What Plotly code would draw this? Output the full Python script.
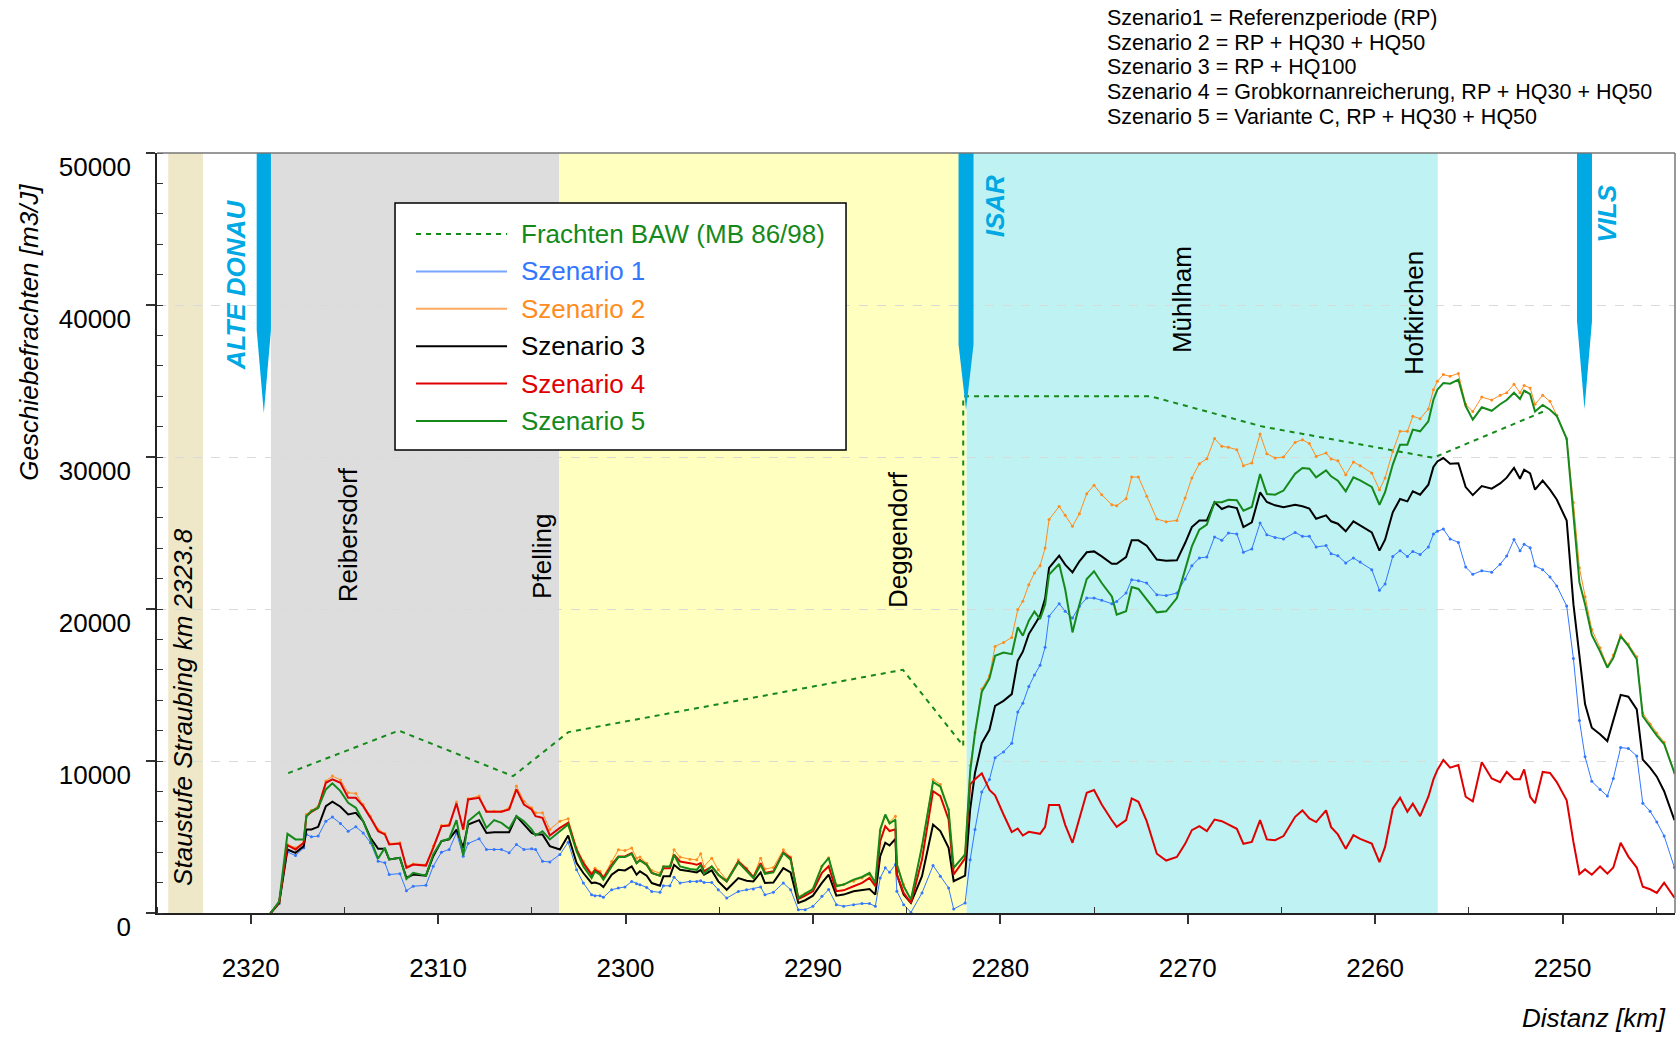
import plotly.graph_objects as go

# ---------------- data ----------------
km = [
    2318.93, 2318.48, 2318.04, 2317.61, 2317.17, 2317.03, 2316.76, 2316.40, 2315.99, 2315.64,
    2315.21, 2314.80, 2314.39, 2314.00, 2313.61, 2313.20, 2312.84, 2312.61, 2312.04, 2311.69,
    2311.33, 2310.65, 2310.26, 2309.82, 2309.41, 2309.02, 2308.66, 2308.40, 2307.81, 2307.42,
    2307.01, 2306.62, 2306.21, 2305.82, 2305.42, 2305.01, 2304.80, 2304.43, 2304.04, 2303.50,
    2303.06,
    2302.61, 2302.25, 2301.81, 2301.63, 2301.36, 2301.18, 2300.74, 2300.38, 2300.03, 2299.67,
    2299.41, 2299.23, 2298.87, 2298.60, 2298.16, 2297.98, 2297.63, 2297.41, 2297.09, 2296.56,
    2296.20, 2295.99, 2295.81, 2295.40, 2295.05, 2294.60, 2293.98, 2293.54, 2293.18, 2292.79,
    2292.56, 2292.11, 2291.58, 2291.19, 2290.78,
    2290.41, 2290.00, 2289.52, 2289.16, 2288.75, 2288.36, 2287.83, 2287.38, 2286.98, 2286.67,
    2286.41, 2286.14, 2285.91, 2285.60, 2285.52, 2285.16, 2284.77, 2284.18, 2283.59, 2283.20,
    2282.76, 2282.49,
    2281.88, 2281.61, 2281.35, 2280.99, 2280.58, 2280.28, 2279.83, 2279.39, 2279.07, 2278.80,
    2278.48, 2278.18, 2277.88, 2277.61, 2277.40, 2276.86, 2276.54, 2276.15, 2275.78, 2275.39,
    2275.00, 2274.59, 2274.05, 2273.79, 2273.29, 2272.99, 2272.63, 2272.19, 2271.65, 2271.15,
    2270.58, 2270.14, 2269.78, 2269.38, 2268.98, 2268.57, 2268.18, 2267.83, 2267.38, 2267.03,
    2266.58, 2266.14, 2265.78, 2265.34, 2264.89, 2264.27, 2263.88, 2263.51, 2263.15, 2262.62,
    2262.35, 2261.99, 2261.57, 2261.16, 2260.80, 2260.18, 2259.77, 2259.47, 2259.06, 2258.67,
    2258.28, 2257.99, 2257.60, 2257.16, 2256.89, 2256.68, 2256.36, 2256.00,
    2255.56, 2255.17, 2254.79, 2254.31, 2253.78, 2253.33, 2252.98, 2252.59, 2252.27, 2252.05,
    2251.73, 2251.47, 2251.06, 2250.67, 2250.31, 2249.78, 2249.42, 2249.10, 2248.80, 2248.44,
    2248.00, 2247.61, 2247.29, 2246.90, 2246.49, 2246.04, 2245.72, 2245.33, 2244.97, 2244.58,
    2244.03,
]

szenario1 = [
    0, 620, 4020, 3780, 4290, 5170, 5010, 5060, 6040, 6310,
    5890, 5380, 5670, 5270, 4620, 3410, 3300, 2530, 2590, 1470,
    1760, 1820, 3080, 4000, 4180, 5270, 3740, 4570, 4880, 4180,
    4180, 4180, 3960, 4510, 4180, 4220, 4180, 3400, 3360, 3850,
    4660,
    2840, 1970, 1200, 1140, 1140, 1030, 1530, 1640, 1710, 2080,
    1930, 1860, 1680, 1420, 1360, 1790, 1790, 2360, 1970, 2080,
    2080, 2120, 2010, 2010, 1530, 980, 1420, 1530, 1580, 1710,
    1200, 1360, 1970, 1530, 220,
    220, 440, 1100, 1540, 550, 440, 550, 620, 620, 440,
    2310, 2970, 2680, 3190, 1430, 550, 40, 1320, 3120, 2420,
    1650, 260,
    660, 3500, 5500, 7960, 8790, 10220, 10600, 11170, 13230, 13800,
    14900, 15650, 16300, 17480, 19520, 20350, 19850, 19410, 20180, 20720,
    20720, 20570, 20350, 20500, 21050, 21930, 21860, 21710, 20940, 20880,
    21050, 21970, 22850, 23360, 23420, 24740, 24520, 25000, 24930, 23730,
    23950, 25660, 24890, 24710, 24610, 25040, 24780, 24780, 24080, 24170,
    23640, 23510, 23030, 23360, 23090, 22590, 21230, 21650, 23460, 23840,
    23460, 23790, 23580, 24080, 24930, 25110, 25260, 24610,
    24380, 22760, 22280, 22520, 22420, 22950, 23480, 24570, 23830, 24260,
    24030, 22830, 22590, 22110, 21520, 20200, 16740, 12670, 10280, 8660,
    8130, 7700, 8850, 10880, 10830, 10330, 7220, 6700, 5980, 5070,
    2990,
]

szenario2 = [
    0, 700, 4510, 4290, 4660, 6480, 6750, 7030, 8680, 9010,
    8750, 7910, 7870, 7140, 6370, 5500, 5230, 4570, 4620, 3080,
    3230, 3190, 4400, 5760, 5820, 7300, 5540, 7520, 7690, 6700,
    6700, 6700, 6920, 8350, 7360, 6920, 6590, 6590, 5500, 6040,
    6200,
    4270, 3390, 2630, 2950, 2740, 2410, 3390, 4160, 4110, 4270,
    3610, 3680, 3280, 2800, 2630, 3060, 3060, 4160, 3680, 3540,
    3500, 3890, 3060, 3610, 2840, 2190, 3500, 2950, 2410, 3610,
    2890, 3000, 4160, 3680, 1090,
    1270, 1580, 3080, 3630, 1870, 1870, 2090, 2310, 2530, 1870,
    5390, 6370, 5980, 6370, 3300, 1870, 880, 4400, 8790, 8460,
    6810, 2970,
    3850, 9700, 11870, 14730, 15610, 17540, 17800, 18130, 19960, 20510,
    21600, 22370, 22850, 24010, 25880, 26750, 26160, 25440, 26270, 27590,
    28140, 27520, 26860, 26800, 27260, 28680, 28680, 27410, 25920, 25740,
    25830, 27300, 28620, 29560, 29890, 31210, 30700, 30640, 30480, 29430,
    29610, 31510, 30220, 29930, 30000, 30960, 31140, 30880, 30040, 30260,
    29870, 29760, 28840, 29670, 29430, 28950, 27850, 28620, 30370, 31690,
    31690, 32680, 32520, 33160, 34430, 34980, 35420, 35310,
    35500, 33470, 32990, 33940, 33750, 34060, 34230, 34780, 34230, 34710,
    34540, 33470, 34060, 33660, 32750, 31200, 27010, 22710, 20800, 18650,
    17450, 16260, 16970, 18290, 17690, 16860, 13150, 12430, 11840, 11240,
    9210,
]

szenario3 = [
    0, 660, 4180, 3960, 4400, 5490, 5490, 5670, 7030, 7320,
    6990, 6480, 6590, 6040, 4950, 4220, 4220, 3520, 3630, 2310,
    2530, 2460, 3740, 4730, 4840, 5490, 4290, 5820, 6110, 5270,
    5320, 5320, 5320, 6370, 5820, 5270, 5170, 5170, 4400, 4180,
    5100,
    3280, 2630, 1970, 2010, 1900, 1710, 2520, 2840, 2800, 3060,
    2520, 2740, 2450, 1970, 1790, 2410, 2410, 3170, 2840, 2740,
    2670, 2840, 2520, 2800, 2080, 1530, 2300, 2120, 2080, 2670,
    1970, 2010, 2950, 2670, 660,
    840, 1140, 1980, 2530, 1140, 1210, 1430, 1490, 1580, 1210,
    3740, 4620, 4440, 4880, 2530, 1210, 660, 2420, 5820, 5390,
    4290, 2090,
    2460, 6810, 9230, 11170, 12050, 13630, 13960, 14400, 16600, 17190,
    18350, 18950, 19560, 20690, 22700, 23510, 22920, 22410, 23140, 23730,
    23790, 23460, 22980, 22980, 23420, 24520, 24520, 24170, 23250, 23180,
    23200, 24340, 25390, 25830, 25830, 27020, 26580, 26760, 26640, 25390,
    25700, 27670, 27040, 26820, 26690, 26860, 26760, 26600, 25940, 26160,
    25770, 25610, 25110, 25770, 25500, 25040, 23840, 24560, 26360, 27240,
    27080, 27740, 27520, 28180, 29340, 29710, 29930, 29560,
    29590, 28020, 27490, 28090, 27920, 28260, 28640, 29280, 28570, 29160,
    28920, 27850, 28450, 27850, 27200, 25820, 20320, 16740, 13750, 12190,
    11760, 11310, 12670, 14350, 14230, 13390, 10090, 9570, 8970, 8010,
    6100,
]

szenario4 = [
    0, 700, 4460, 4180, 4620, 6370, 6660, 6920, 8570, 8790,
    8570, 7580, 7580, 7030, 6260, 5380, 5170, 4510, 4570, 2970,
    3190, 3120, 4290, 5710, 5760, 7210, 5500, 7470, 7580, 6660,
    6660, 6660, 6810, 8130, 7140, 6810, 6370, 6260, 5100, 5600,
    5930,
    4160, 3280, 2520, 2840, 2630, 2300, 3170, 3720, 3720, 3940,
    3280, 3500, 3170, 2630, 2450, 2950, 2950, 3830, 3390, 3280,
    3170, 3280, 2740, 3060, 2520, 2080, 3390, 2890, 2360, 3280,
    2630, 2740, 3980, 3610, 920,
    1140, 1430, 2640, 3080, 1430, 1490, 1760, 1980, 2310, 1760,
    4730, 5710, 5390, 5500, 2530, 1320, 660, 3520, 8020, 7690,
    6150, 2530,
    3600, 8460, 8800, 9190, 8090, 7740, 6480, 5320, 5560, 5100,
    5340, 5280, 5210, 5670, 7100, 7100, 5800, 4620, 6270, 7910,
    8090, 7140, 6100, 5670, 6110, 7540, 7320, 6040, 3900, 3450,
    3690, 4550, 5450, 5710, 5390, 6150, 6040, 5820, 5540, 4550,
    4680, 6110, 4840, 4790, 5060, 6330, 6750, 6220, 5980, 6750,
    5650, 5170, 4220, 5120, 4880, 4570, 3340, 4350, 6860, 7580,
    6660, 7190, 6370, 7650, 8790, 9410, 10070, 9560,
    9730, 7650, 7340, 9920, 8850, 8610, 9280, 8800, 8800, 9450,
    7650, 7220, 9280, 9210, 8610, 7410, 4670, 2560, 2870, 2520,
    3060, 2590, 2990, 4620, 3710, 2990, 1730, 1560, 1320, 1990,
    1010,
]

szenario5 = [
    0, 770, 5210, 4840, 4840, 6370, 6700, 6920, 8130, 8530,
    8020, 7250, 6920, 6040, 4840, 3580, 4290, 3520, 3630, 2240,
    2640, 2460, 3850, 4730, 4880, 6110, 3780, 6040, 6640, 5600,
    6110, 5930, 5540, 6370, 6040, 5500, 5100, 5380, 4840, 5380,
    5820,
    4050, 3060, 2300, 2740, 2520, 2190, 3060, 3680, 3680, 3890,
    3280, 3460, 3170, 2630, 2450, 3060, 3060, 3830, 3060, 2890,
    2840, 3170, 2580, 3060, 2520, 2080, 3330, 2800, 2300, 3170,
    2580, 2670, 3940, 3500, 980,
    1270, 1580, 3080, 3630, 1760, 1870, 2200, 2370, 2640, 1980,
    5500, 6480, 5890, 6150, 3190, 1760, 880, 4400, 8620, 8310,
    6770, 2970,
    3850, 9300, 11870, 14550, 15430, 16920, 17140, 17030, 18790, 18240,
    19230, 19830, 19340, 20290, 22260, 22960, 21300, 18460, 20290, 21970,
    22480, 21710, 20830, 19630, 19850, 21450, 21320, 20610, 19780, 19850,
    20720, 22590, 24120, 25220, 25550, 27020, 27020, 27190, 27150, 26470,
    26710, 28880, 27570, 27520, 27790, 28900, 29280, 29230, 28660, 29120,
    28730, 28440, 27740, 28660, 28460, 28030, 26860, 27680, 29500, 30810,
    30810, 31800, 31690, 32350, 33770, 34430, 34870, 34820,
    35090, 33350, 32460, 33270, 33040, 33470, 33750, 34230, 33820, 34370,
    34130, 32990, 33420, 33110, 32700, 31200, 26300, 21750, 20320, 18290,
    17210, 16140, 16780, 18220, 17570, 16690, 12960, 12310, 11670, 11120,
    9210,
]

baw_km = [2318.0, 2312.1, 2306.0, 2303.05, 2285.2, 2282.15, 2281.98, 2281.98, 2272.0, 2266.0, 2256.9, 2251.0]
baw_val = [9200, 12000, 9000, 11900, 16000, 11250, 11000, 34000, 34000, 32000, 29950, 33000]

x_ticks = [2320, 2310, 2300, 2290, 2280, 2270, 2260, 2250]
y_ticks = [0, 10000, 20000, 30000, 40000, 50000]

series_names = ["Frachten BAW (MB 86/98)", "Szenario 1", "Szenario 2", "Szenario 3", "Szenario 4", "Szenario 5"]

info_lines = [
    "Szenario1 = Referenzperiode (RP)",
    "Szenario 2 = RP + HQ30 + HQ50",
    "Szenario 3 = RP + HQ100",
    "Szenario 4 = Grobkornanreicherung, RP + HQ30 + HQ50",
    "Szenario 5 = Variante C, RP + HQ30 + HQ50",
]

# ---------------- styles ----------------
FONT = "Liberation Sans, Arial, Helvetica, sans-serif"
BLUE = "rgb(51,119,255)"
ORANGE = "rgb(255,140,30)"
BLACK = "rgb(0,0,0)"
RED = "rgb(224,0,0)"
GREEN = "rgb(21,137,26)"
RIVER = "rgb(0,168,228)"

fig = go.Figure()

fig.add_trace(go.Scatter(x=baw_km, y=baw_val, mode="lines", name=series_names[0],
                         line=dict(color=GREEN, width=2, dash="5px,5px")))
fig.add_trace(go.Scatter(x=km, y=szenario1, mode="lines+markers", name=series_names[1],
                         line=dict(color=BLUE, width=1), marker=dict(size=3, color=BLUE)))
fig.add_trace(go.Scatter(x=km, y=szenario2, mode="lines+markers", name=series_names[2],
                         line=dict(color=ORANGE, width=1), marker=dict(size=3, color=ORANGE)))
fig.add_trace(go.Scatter(x=km, y=szenario3, mode="lines", name=series_names[3],
                         line=dict(color=BLACK, width=2)))
fig.add_trace(go.Scatter(x=km, y=szenario4, mode="lines", name=series_names[4],
                         line=dict(color=RED, width=2)))
fig.add_trace(go.Scatter(x=km, y=szenario5, mode="lines", name=series_names[5],
                         line=dict(color=GREEN, width=2)))

shapes = []
# background reaches
for x0, x1, col in [
    (2324.4, 2322.55, "rgb(239,232,200)"),
    (2318.92, 2303.55, "rgb(220,221,220)"),
    (2303.55, 2281.8, "rgb(255,255,192)"),
    (2281.8, 2256.66, "rgb(191,242,242)"),
]:
    shapes.append(dict(type="rect", xref="x", yref="paper", x0=x0, x1=x1, y0=0, y1=1,
                       fillcolor=col, line=dict(width=0), layer="below"))

# tributary arrows
for xl, xr, xc, ys, yt in [
    (2319.68, 2318.92, 2319.30, 38350, 32900),
    (2282.23, 2281.43, 2281.83, 37400, 33100),
    (2249.23, 2248.43, 2248.83, 38950, 33160),
]:
    shapes.append(dict(type="path", xref="x", yref="y",
                       path=f"M {xl},50000 L {xr},50000 L {xr},{ys} L {xc},{yt} L {xl},{ys} Z",
                       fillcolor=RIVER, line=dict(width=0), layer="above"))

# frame top/right
shapes.append(dict(type="line", xref="paper", yref="paper", x0=0, x1=1, y0=1, y1=1,
                   line=dict(color="#777777", width=1.5), layer="above"))
shapes.append(dict(type="line", xref="paper", yref="paper", x0=1, x1=1, y0=0, y1=1,
                   line=dict(color="#777777", width=1.5), layer="above"))

# manual legend box
shapes.append(dict(type="rect", xref="paper", yref="paper", x0=0.1568, x1=0.4539, y0=0.6092, y1=0.9342,
                   fillcolor="white", line=dict(color="black", width=1.5), layer="above"))
leg_colors = [GREEN, "rgb(120,165,255)", "rgb(255,170,100)", BLACK, RED, GREEN]
leg_text_colors = [GREEN, BLUE, ORANGE, BLACK, RED, GREEN]
leg_dash = ["5px,5px", "solid", "solid", "solid", "solid", "solid"]
leg_width = [2, 2, 2, 2, 2, 2]
leg_rows = [0.8934, 0.8442, 0.7950, 0.7458, 0.6966, 0.6474]

annotations = []
for name, lc, tc, ds, lw, ry in zip(series_names, leg_colors, leg_text_colors, leg_dash, leg_width, leg_rows):
    shapes.append(dict(type="line", xref="paper", yref="paper", x0=0.1706, x1=0.2306, y0=ry, y1=ry,
                       line=dict(color=lc, width=lw, dash=ds), layer="above"))
    annotations.append(dict(xref="paper", yref="paper", x=0.2385, y=ry, xanchor="left", yanchor="middle",
                            text=name, showarrow=False, font=dict(family=FONT, size=26, color=tc)))

# river labels
for txt, x, y in [("ALTE DONAU", 2320.78, 41300), ("ISAR", 2280.28, 46500), ("VILS", 2247.63, 46000)]:
    annotations.append(dict(xref="x", yref="y", x=x, y=y, text=f"<b><i>{txt}</i></b>", textangle=-90,
                            showarrow=False, xanchor="center", yanchor="middle",
                            font=dict(family=FONT, size=26, color=RIVER)))

# place names
for txt, x, y in [("Reibersdorf", 2314.79, 24870), ("Pfelling", 2304.46, 23490), ("Deggendorf", 2285.46, 24540),
                  ("Mühlham", 2270.3, 40330), ("Hofkirchen", 2257.93, 39470)]:
    annotations.append(dict(xref="x", yref="y", x=x, y=y, text=txt, textangle=-90, showarrow=False,
                            xanchor="center", yanchor="middle", font=dict(family=FONT, size=26, color="black")))

annotations.append(dict(xref="x", yref="y", x=2323.62, y=13550, text="<i>Staustufe Straubing km 2323.8</i>",
                        textangle=-90, showarrow=False, xanchor="center", yanchor="middle",
                        font=dict(family=FONT, size=26, color="black")))

# axis titles
annotations.append(dict(xref="paper", yref="paper", x=-0.0843, y=0.7636, text="<i>Geschiebefrachten [m3/J]</i>",
                        textangle=-90, showarrow=False, xanchor="center", yanchor="middle",
                        font=dict(family=FONT, size=26, color="black")))
annotations.append(dict(xref="paper", yref="paper", x=0.9954, y=-0.138, text="<i>Distanz [km]</i>",
                        showarrow=False, xanchor="right", yanchor="middle",
                        font=dict(family=FONT, size=26, color="black")))

# scenario explanations
for i, line in enumerate(info_lines):
    annotations.append(dict(xref="paper", yref="paper", x=0.6245, y=1.1776 - i * 0.0324, text=line,
                            showarrow=False, xanchor="left", yanchor="middle",
                            font=dict(family=FONT, size=21.5, color="black")))

fig.update_layout(
    width=1677, height=1037,
    margin=dict(l=157, r=2, t=153, b=124),
    paper_bgcolor="white", plot_bgcolor="white",
    showlegend=False,
    font=dict(family=FONT, size=26, color="black"),
    shapes=shapes, annotations=annotations,
    xaxis=dict(range=[2325, 2244], tickvals=x_ticks, tickformat="d",
               ticks="outside", ticklen=9, tickwidth=1.5, tickcolor="#333333",
               showline=True, linecolor="#222222", linewidth=1.5,
               showgrid=False, zeroline=False, ticklabelstandoff=22,
               tickfont=dict(family=FONT, size=26, color="black"),
               minor=dict(ticks="inside", ticklen=6, tickwidth=1.2, tickcolor="#333333",
                          tickvals=[2320 - 5 * i for i in range(-1, 16) if i % 2 == 1], showgrid=False)),
    yaxis=dict(range=[0, 50000], tickvals=y_ticks, tickformat="d",
               ticks="outside", ticklen=9, tickwidth=1.5, tickcolor="#333333",
               showline=True, linecolor="#222222", linewidth=1.5,
               showgrid=True, gridcolor="rgb(218,218,218)", griddash="dash", gridwidth=1,
               zeroline=False, ticklabelshift=14, ticklabelstandoff=10,
               tickfont=dict(family=FONT, size=26, color="black"),
               minor=dict(ticks="inside", ticklen=6, tickwidth=1.2, tickcolor="#333333",
                          dtick=2000, showgrid=False)),
)

fig.write_html("out.html", config={"displayModeBar": False},
               post_script="document.body.style.margin='0';document.body.style.overflow='hidden';")
